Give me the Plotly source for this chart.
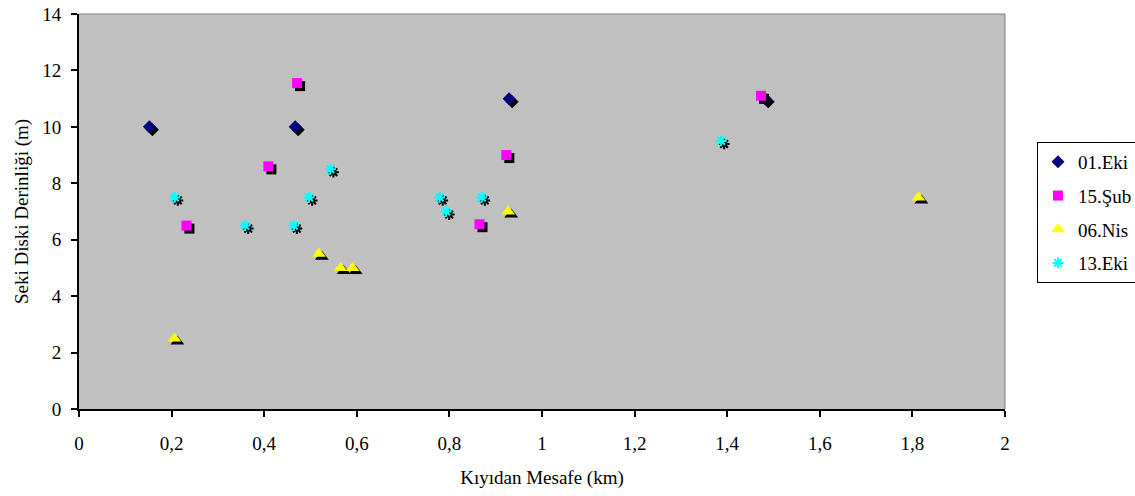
import plotly.graph_objects as go

# ---- data ----
eki01_x = [0.152, 0.467, 0.929, 1.482]
eki01_y = [10.0, 10.0, 11.0, 11.0]

sub15_x = [0.232, 0.409, 0.471, 0.865, 0.923, 1.473]
sub15_y = [6.5, 8.6, 11.55, 6.55, 9.0, 11.1]

nis06_x = [0.206, 0.518, 0.565, 0.591, 0.927, 1.813]
nis06_y = [2.5, 5.5, 5.0, 5.0, 7.0, 7.5]

eki13_x = [0.207, 0.359, 0.464, 0.497, 0.543, 0.779, 0.793, 0.870, 1.387]
eki13_y = [7.5, 6.5, 6.5, 7.5, 8.5, 7.5, 7.0, 7.5, 9.5]

series_names = ["01.Eki", "15.Şub", "06.Nis", "13.Eki"]

# ---- layout constants ----
W, H = 1135, 496
ML, MR, MT, MB = 79, 130, 14, 87
X_RANGE = [0, 2]
Y_RANGE = [0, 14]
plot_w = W - ML - MR
plot_h = H - MT - MB
SH_PX = 3
dx = SH_PX * (X_RANGE[1] - X_RANGE[0]) / plot_w
dy = SH_PX * (Y_RANGE[1] - Y_RANGE[0]) / plot_h

FONT = "Times New Roman, Liberation Serif, DejaVu Serif, serif"

fig = go.Figure()

specs = [
    (eki01_x, eki01_y, series_names[0], dict(symbol="diamond", size=10, color="#000080")),
    (sub15_x, sub15_y, series_names[1], dict(symbol="square", size=10, color="#FF00FF")),
    (nis06_x, nis06_y, series_names[2], dict(symbol="triangle-up", size=12, color="#FFFF00")),
    (eki13_x, eki13_y, series_names[3], dict(symbol="asterisk-open", size=9, color="#00FFFF",
                                             line=dict(color="#00FFFF", width=2))),
]

for i, (xs, ys, name, mk) in enumerate(specs):
    shadow = dict(mk)
    shadow["color"] = "black"
    if "line" in shadow:
        shadow["line"] = dict(color="black", width=2)
    else:
        shadow["line"] = dict(width=0)
    fig.add_trace(go.Scatter(
        x=[v + dx for v in xs], y=[v - dy for v in ys], mode="markers",
        marker=shadow, showlegend=False, hoverinfo="skip",
    ))
    m = dict(mk)
    if "line" not in m:
        m["line"] = dict(width=0)
    fig.add_trace(go.Scatter(
        x=xs, y=ys, mode="markers", name=name, marker=m,
        legendgroup=f"g{i}",
    ))

fig.add_shape(type="line", xref="paper", yref="paper", x0=0, x1=1, y0=1, y1=1,
              line=dict(color="#808080", width=1))
fig.add_shape(type="line", xref="paper", yref="paper", x0=1, x1=1, y0=0, y1=1,
              line=dict(color="#808080", width=1))

fig.update_layout(
    width=W, height=H,
    margin=dict(l=ML, r=MR, t=MT, b=MB, pad=0, autoexpand=False),
    paper_bgcolor="white",
    plot_bgcolor="#C0C0C0",
    separators=",.",
    font=dict(family=FONT, size=19, color="black"),
    xaxis=dict(
        range=X_RANGE, dtick=0.2, tick0=0, showgrid=False, zeroline=False,
        showline=True, linecolor="black", linewidth=2,
        ticks="outside", ticklen=6, tickwidth=2, tickcolor="black",
        tickfont=dict(family=FONT, size=19),
        ticklabelstandoff=10,
        title=dict(text="Kıyıdan Mesafe (km)", font=dict(family=FONT, size=19), standoff=18),
    ),
    yaxis=dict(
        range=Y_RANGE, dtick=2, tick0=0, showgrid=False, zeroline=False,
        showline=True, linecolor="black", linewidth=2,
        ticks="outside", ticklen=6, tickwidth=2, tickcolor="black",
        tickfont=dict(family=FONT, size=19),
        ticklabelstandoff=6,
        title=dict(text="Seki Diski Derinliği (m)", font=dict(family=FONT, size=19), standoff=9),
    ),
    legend=dict(
        x=(1037 - ML) / plot_w, xanchor="left",
        y=1 - (142 - MT) / plot_h, yanchor="top",
        bgcolor="white", bordercolor="black", borderwidth=1,
        font=dict(family=FONT, size=19),
        traceorder="grouped", tracegroupgap=6, itemwidth=30,
    ),
)

fig.write_html("out.html")
